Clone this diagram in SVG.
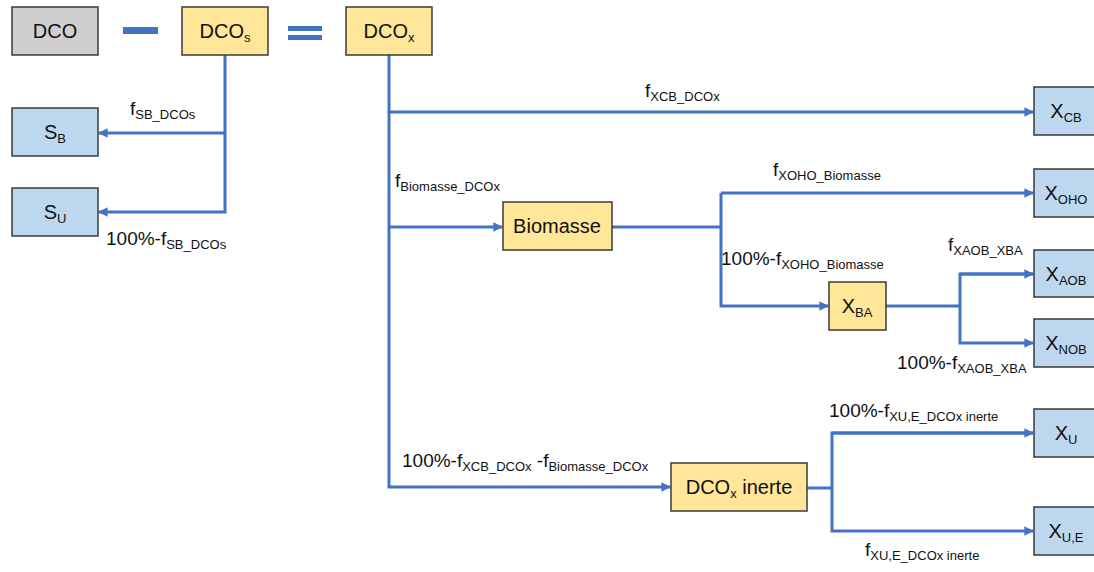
<svg xmlns="http://www.w3.org/2000/svg" width="1094" height="572" viewBox="0 0 1094 572">
<style>
.box{stroke:#3a3a3a;stroke-width:1.5}
.g{fill:#D0CECE}
.y{fill:#FFE699}
.b{fill:#BDD7EE}
.bt{font-family:"Liberation Sans",Arial,sans-serif;font-size:20px;fill:#111;text-anchor:middle}
.lb{font-family:"Liberation Sans",Arial,sans-serif;font-size:19px;fill:#111}
.s{font-size:13px}
.c{fill:none;stroke:#4472C4;stroke-width:3}
</style>
<defs>
<marker id="ah" viewBox="0 0 10 10" refX="9" refY="5" markerWidth="3.2" markerHeight="3.2" orient="auto" markerUnits="strokeWidth">
<path d="M0,0 L10,5 L0,10 z" fill="#4472C4"/>
</marker>
</defs>
<rect width="1094" height="572" fill="#fff"/>

<g id="connectors">
<rect x="123" y="27" width="35" height="7" fill="#4472C4"/>
<rect x="288" y="26" width="34" height="5" fill="#4472C4"/>
<rect x="288" y="35" width="34" height="5" fill="#4472C4"/>
<polyline class="c" points="225,55 225,212 99,212" marker-end="url(#ah)"/>
<polyline class="c" points="225,133 99,133" marker-end="url(#ah)"/>
<polyline class="c" points="389,55 389,487 670,487" marker-end="url(#ah)"/>
<polyline class="c" points="389,112 1033,112" marker-end="url(#ah)"/>
<polyline class="c" points="389,227 502,227" marker-end="url(#ah)"/>
<polyline class="c" points="612,227 721,227"/>
<polyline class="c" points="721,193 1033,193" marker-end="url(#ah)"/>
<polyline class="c" points="721,193 721,306 828,306" marker-end="url(#ah)"/>
<polyline class="c" points="886,306 960,306"/>
<polyline class="c" points="1033,274 960,274 960,343 1033,343" marker-end="url(#ah)"/>
<polyline class="c" points="960,274 1033,274" marker-end="url(#ah)"/>
<polyline class="c" points="807,488 832,488"/>
<polyline class="c" points="1033,433 832,433 832,531 1033,531" marker-end="url(#ah)"/>
<polyline class="c" points="832,433 1033,433" marker-end="url(#ah)"/>
</g>

<g id="labels">
<text class="lb" x="130" y="115">f<tspan class="s" dy="4">SB_DCOs</tspan></text>
<text class="lb" x="106" y="245">100%-f<tspan class="s" dy="4">SB_DCOs</tspan></text>
<text class="lb" x="645" y="97">f<tspan class="s" dy="4">XCB_DCOx</tspan></text>
<text class="lb" x="395" y="187">f<tspan class="s" dy="4">Biomasse_DCOx</tspan></text>
<text class="lb" x="773" y="176">f<tspan class="s" dy="4">XOHO_Biomasse</tspan></text>
<text class="lb" x="721" y="265">100%-f<tspan class="s" dy="4">XOHO_Biomasse</tspan></text>
<text class="lb" x="948" y="251">f<tspan class="s" dy="4">XAOB_XBA</tspan></text>
<text class="lb" x="897" y="369">100%-f<tspan class="s" dy="4">XAOB_XBA</tspan></text>
<text class="lb" x="402" y="467">100%-f<tspan class="s" dy="4">XCB_DCOx</tspan><tspan dy="-4"> -f</tspan><tspan class="s" dy="4">Biomasse_DCOx</tspan></text>
<text class="lb" x="829" y="417">100%-f<tspan class="s" dy="4">XU,E_DCOx inerte</tspan></text>
<text class="lb" x="865" y="556">f<tspan class="s" dy="4">XU,E_DCOx inerte</tspan></text>
</g>

<g id="DCO"><rect class="box g" x="12" y="7" width="86" height="48"/><text class="bt" x="55" y="38">DCO</text></g>
<g id="DCOs"><rect class="box y" x="182" y="7" width="86" height="48"/><text class="bt" x="225" y="38">DCO<tspan class="s" dy="4">s</tspan></text></g>
<g id="DCOx"><rect class="box y" x="346" y="7" width="86" height="48"/><text class="bt" x="389" y="38">DCO<tspan class="s" dy="4">x</tspan></text></g>
<g id="SB"><rect class="box b" x="12" y="108" width="86" height="48"/><text class="bt" x="55" y="139">S<tspan class="s" dy="4">B</tspan></text></g>
<g id="SU"><rect class="box b" x="12" y="188" width="86" height="48"/><text class="bt" x="55" y="219">S<tspan class="s" dy="4">U</tspan></text></g>
<g id="Biomasse"><rect class="box y" x="503" y="202" width="109" height="48"/><text class="bt" x="557" y="233">Biomasse</text></g>
<g id="XBA"><rect class="box y" x="829" y="282" width="57" height="48"/><text class="bt" x="857" y="313">X<tspan class="s" dy="4">BA</tspan></text></g>
<g id="DCOx_inerte"><rect class="box y" x="671" y="463" width="136" height="48"/><text class="bt" x="739" y="494">DCO<tspan class="s" dy="4">x</tspan><tspan dy="-4"> inerte</tspan></text></g>
<g id="XCB"><rect class="box b" x="1034" y="87" width="66" height="48"/><text class="bt" x="1066" y="118">X<tspan class="s" dy="4">CB</tspan></text></g>
<g id="XOHO"><rect class="box b" x="1034" y="169" width="66" height="48"/><text class="bt" x="1066" y="200">X<tspan class="s" dy="4">OHO</tspan></text></g>
<g id="XAOB"><rect class="box b" x="1034" y="250" width="66" height="47"/><text class="bt" x="1066" y="281">X<tspan class="s" dy="4">AOB</tspan></text></g>
<g id="XNOB"><rect class="box b" x="1034" y="319" width="66" height="48"/><text class="bt" x="1066" y="350">X<tspan class="s" dy="4">NOB</tspan></text></g>
<g id="XU"><rect class="box b" x="1034" y="409" width="66" height="48"/><text class="bt" x="1066" y="440">X<tspan class="s" dy="4">U</tspan></text></g>
<g id="XUE"><rect class="box b" x="1034" y="507" width="66" height="48"/><text class="bt" x="1066" y="538">X<tspan class="s" dy="4">U,E</tspan></text></g>
</svg>
